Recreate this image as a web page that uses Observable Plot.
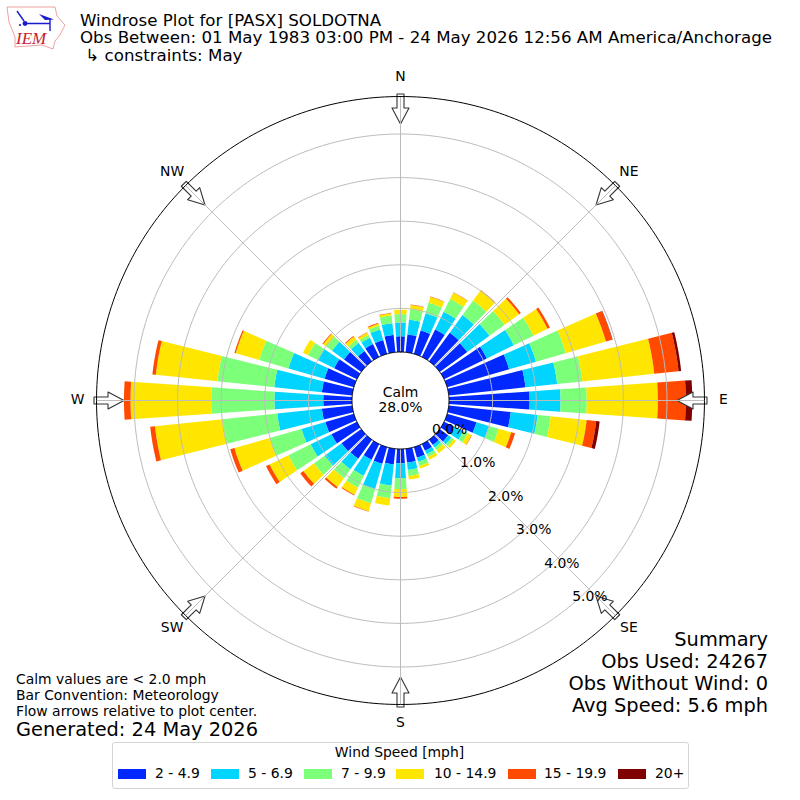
<!DOCTYPE html>
<html>
<head>
<meta charset="utf-8">
<script src="https://cdn.jsdelivr.net/npm/d3@7"></script>
<script src="https://cdn.jsdelivr.net/npm/@observablehq/plot@0.6"></script>
<style>
html,body{margin:0;padding:0;background:#fff}
#page{position:relative;width:800px;height:800px;overflow:hidden;font-family:"DejaVu Sans",sans-serif;color:#000}
#page svg.plot{position:absolute;left:0;top:0}
.t{position:absolute;white-space:pre;line-height:1}
.sw{position:absolute;height:10px;width:28px}
</style>
</head>
<body>
<div id="page"></div>
<script>
// Percent of observations per direction (0, 10, ... 350 degrees) and speed bin
const directions = d3.range(0, 360, 10);
const speedBins = ["2 - 4.9", "5 - 6.9", "7 - 9.9", "10 - 14.9", "15 - 19.9", "20+"];
const binColors = ["#0028ff", "#00d4ff", "#7cff79", "#ffe600", "#ff4a00", "#7f0000"];
const bin2to5 = [.36,.41,.56,.70,.81,.78,1.09,1.48,1.77,1.85,1.43,.70,.26,.24,.15,.17,.25,.32,.33,.36,.40,.40,.54,.56,.65,.68,.70,.66,.70,.70,.58,.49,.29,.33,.33,.40];
const bin5to7 = [.32,.34,.41,.45,.50,.63,.69,.64,.73,.71,.62,.30,.23,.09,.07,.09,.10,.17,.34,.49,.60,.41,.30,.48,.53,.57,1.03,1.12,1.10,.86,.41,.34,.23,.16,.25,.27];
const bin7to10 = [.19,.24,.25,.33,.41,.43,.50,.71,.58,.60,.30,.23,.11,.07,.07,.07,.10,.14,.25,.29,.34,.30,.25,.30,.57,.76,1.26,1.45,1.31,.70,.26,.16,.09,.07,.09,.18];
const bin10to15 = [.10,.10,.14,.16,.29,.41,.36,.96,1.66,1.63,.83,.30,.10,.06,.09,.07,.06,.08,.18,.17,.19,.18,.25,.30,.48,.84,1.56,1.85,1.42,.56,.13,.09,.09,.06,.05,.05];
const bin15to20 = [0,.01,.01,.01,.01,.05,.06,.15,.56,.64,.22,.09,.01,0,0,0,0,0,.04,0,.01,.02,.05,.09,.09,.10,.11,.15,.08,.03,0,.02,.02,.01,.02,.01];
const bin20plus = [0,0,0,0,0,0,0,.01,.06,.15,.08,0,0,0,0,0,0,0,0,0,0,0,0,0,0,0,0,0,0,0,0,0,0,0,0,0];
const binSeries = [bin2to5, bin5to7, bin7to10, bin10to15, bin15to20, bin20plus];
const ringValues = [1, 2, 3, 4, 5];
const ringLabels = [0, 1, 2, 3, 4, 5];
const compass = [["N",0],["NE",45],["E",90],["SE",135],["S",180],["SW",225],["W",270],["NW",315]];
const calmLabel = "Calm\n28.0%";

const titleLines = ["Windrose Plot for [PASX] SOLDOTNA",
  "Obs Between: 01 May 1983 03:00 PM - 24 May 2026 12:56 AM America/Anchorage",
  " \u21B3 constraints: May"];
const summaryLines = ["Summary", "Obs Used: 24267", "Obs Without Wind: 0", "Avg Speed: 5.6 mph"];
const noteLines = ["Calm values are < 2.0 mph", "Bar Convention: Meteorology", "Flow arrows relative to plot center."];
const generated = "Generated: 24 May 2026";

// radial axis: the 0% ring sits at hole, outer frame at rMax (percent units)
const hole = 1.112, rMax = 5.86, unitPx = 43.6, halfWidth = 4;
const pol = (deg, v) => {
  const a = deg * Math.PI / 180, r = v + hole;
  return {x: r * Math.sin(a), y: r * Math.cos(a)};
};
const ext = 400 / unitPx;

const barPts = [];
directions.forEach((dir, i) => {
  let base = 0;
  binSeries.forEach((s, b) => {
    const v = s[i];
    if (v > 0) {
      const id = dir + "-" + b, top = base + v, poly = [];
      for (let a = -halfWidth; a <= halfWidth; a += 1) poly.push(pol(dir + a, base));
      for (let a = halfWidth; a >= -halfWidth; a -= 1) poly.push(pol(dir + a, top));
      poly.forEach(p => barPts.push({...p, id, bin: speedBins[b]}));
    }
    base += v;
  });
});

const ring = (v) => d3.range(0, 361, 1).map(a => ({...pol(a, v), v}));
const gridRings = ringValues.flatMap(ring);
const spokes = compass.map(([n, d]) => {
  const a = pol(d, 0), b = pol(d, rMax);
  return {x1: a.x, y1: a.y, x2: b.x, y2: b.y};
});
const compassText = compass.map(([n, d]) => ({...pol(d, rMax + 19 / unitPx), n, dy: (d === 45 || d === 315) ? -2 : 0}));
const tickText = ringLabels.map(v => ({...pol(140, v), t: v.toFixed(1) + "%"}));
const arrowPts = compass.map(([n, d]) => ({...pol(d, rMax + 2.5 / unitPx), rot: d + 180}));
const arrowShape = {
  draw(c, l) {
    const bw = 3.5, hw = 8.5, hl = 16;
    c.moveTo(-bw, 0); c.lineTo(-bw, -(l - hl)); c.lineTo(-hw, -(l - hl)); c.lineTo(0, -l);
    c.lineTo(hw, -(l - hl)); c.lineTo(bw, -(l - hl)); c.lineTo(bw, 0); c.closePath();
  }
};

const chart = Plot.plot({
  width: 800, height: 800, margin: 0,
  x: {domain: [-ext, ext], range: [0, 800], axis: null},
  y: {domain: [-ext, ext], range: [800, 0], axis: null},
  color: {type: "ordinal", domain: speedBins, range: binColors},
  style: {fontFamily: "DejaVu Sans", background: "transparent"},
  marks: [
    Plot.line(barPts, {x: "x", y: "y", z: "id", fill: "bin", stroke: "none"}),
    Plot.vector(arrowPts, {x: "x", y: "y", rotate: "rot", length: 30, anchor: "start", shape: arrowShape,
      fill: "white", stroke: "#333", strokeWidth: 1.1}),
    Plot.line(gridRings, {x: "x", y: "y", z: "v", stroke: "#bcbcbc", strokeWidth: 1}),
    Plot.link(spokes, {x1: "x1", y1: "y1", x2: "x2", y2: "y2", stroke: "#bcbcbc", strokeWidth: 1}),
    Plot.line(ring(0), {x: "x", y: "y", stroke: "black", strokeWidth: 1}),
    Plot.line(ring(rMax), {x: "x", y: "y", stroke: "black", strokeWidth: 1}),
    Plot.text(compassText, {x: "x", y: "y", text: "n", fontSize: 13.9, fill: "black", dy: -1}),
    Plot.text(tickText, {x: "x", y: "y", text: "t", fontSize: 13.9, dx: 18, dy: -8, fill: "black"}),
    Plot.text([{x: 0, y: 0}], {x: "x", y: "y", text: () => calmLabel, fontSize: 13.9, fill: "black", lineHeight: 1.08, dy: -1})
  ]
});

const page = document.getElementById("page");
page.appendChild(chart);

function label(text, o) {
  const d = document.createElement("div");
  d.className = "t";
  d.textContent = text;
  Object.assign(d.style, o);
  page.appendChild(d);
  return d;
}
// vertical centre helper
const at = (x, yc, size, extra = {}) => ({left: x + "px", top: (yc - size / 2) + "px", fontSize: size + "px", ...extra});

const titleY = [21, 38.5, 56];
titleLines.forEach((t, i) => label(t, at(80, titleY[i], 16.67)));

const sumY = [640, 662, 684, 706];
summaryLines.forEach((t, i) => label(t, {right: "32px", top: (sumY[i] - 9.7) + "px", fontSize: "19.4px"}));

const noteY = [680, 696, 712];
noteLines.forEach((t, i) => label(t, at(16, noteY[i], 13.9)));
label(generated, at(16, 730, 19.4));

// logo
const logo = document.createElementNS("http://www.w3.org/2000/svg", "svg");
logo.setAttribute("width", 70); logo.setAttribute("height", 55);
logo.style.cssText = "position:absolute;left:0;top:0";
logo.innerHTML = `
<path d="M7 7 L55 7 L57 16 L65 25 L60 35 L55 41 L53 49 L42 45 L15 47 L15 37 L9 22 Z" fill="none" stroke="#e88a8a" stroke-width="0.8"/>
<path d="M25 23.5 L50 23.5 M17 11 L24 21 M50 19 L50 31" stroke="#1a1ad0" stroke-width="1.4" fill="none"/>
<path d="M39 14 L54 19.5 L45 20 Z" fill="#1a1ad0"/>
<circle cx="25" cy="23.5" r="2.4" fill="#1a1ad0"/><circle cx="20" cy="25" r="1.1" fill="#1a1ad0"/>
<text x="16" y="44" font-family="Liberation Serif" font-style="italic" font-size="17" fill="#c8202a">IEM</text>`;
page.appendChild(logo);

// legend
const box = document.createElement("div");
box.style.cssText = "position:absolute;left:112px;top:742px;width:575px;height:45px;border:1px solid #d5d5d5;border-radius:3px;background:#fff;box-sizing:content-box";
page.appendChild(box);
label("Wind Speed [mph]", {left: "112px", width: "575px", textAlign: "center", top: (753 - 7) + "px", fontSize: "13.9px"});
const swX = [118, 211, 304, 396, 508, 618], txtX = [155, 248, 341, 434, 544, 655];
speedBins.forEach((b, i) => {
  const s = document.createElement("div");
  s.className = "sw";
  s.style.left = swX[i] + "px"; s.style.top = "769px"; s.style.background = binColors[i];
  page.appendChild(s);
  label(b, at(txtX[i], 774, 13.9));
});
</script>
</body>
</html>
